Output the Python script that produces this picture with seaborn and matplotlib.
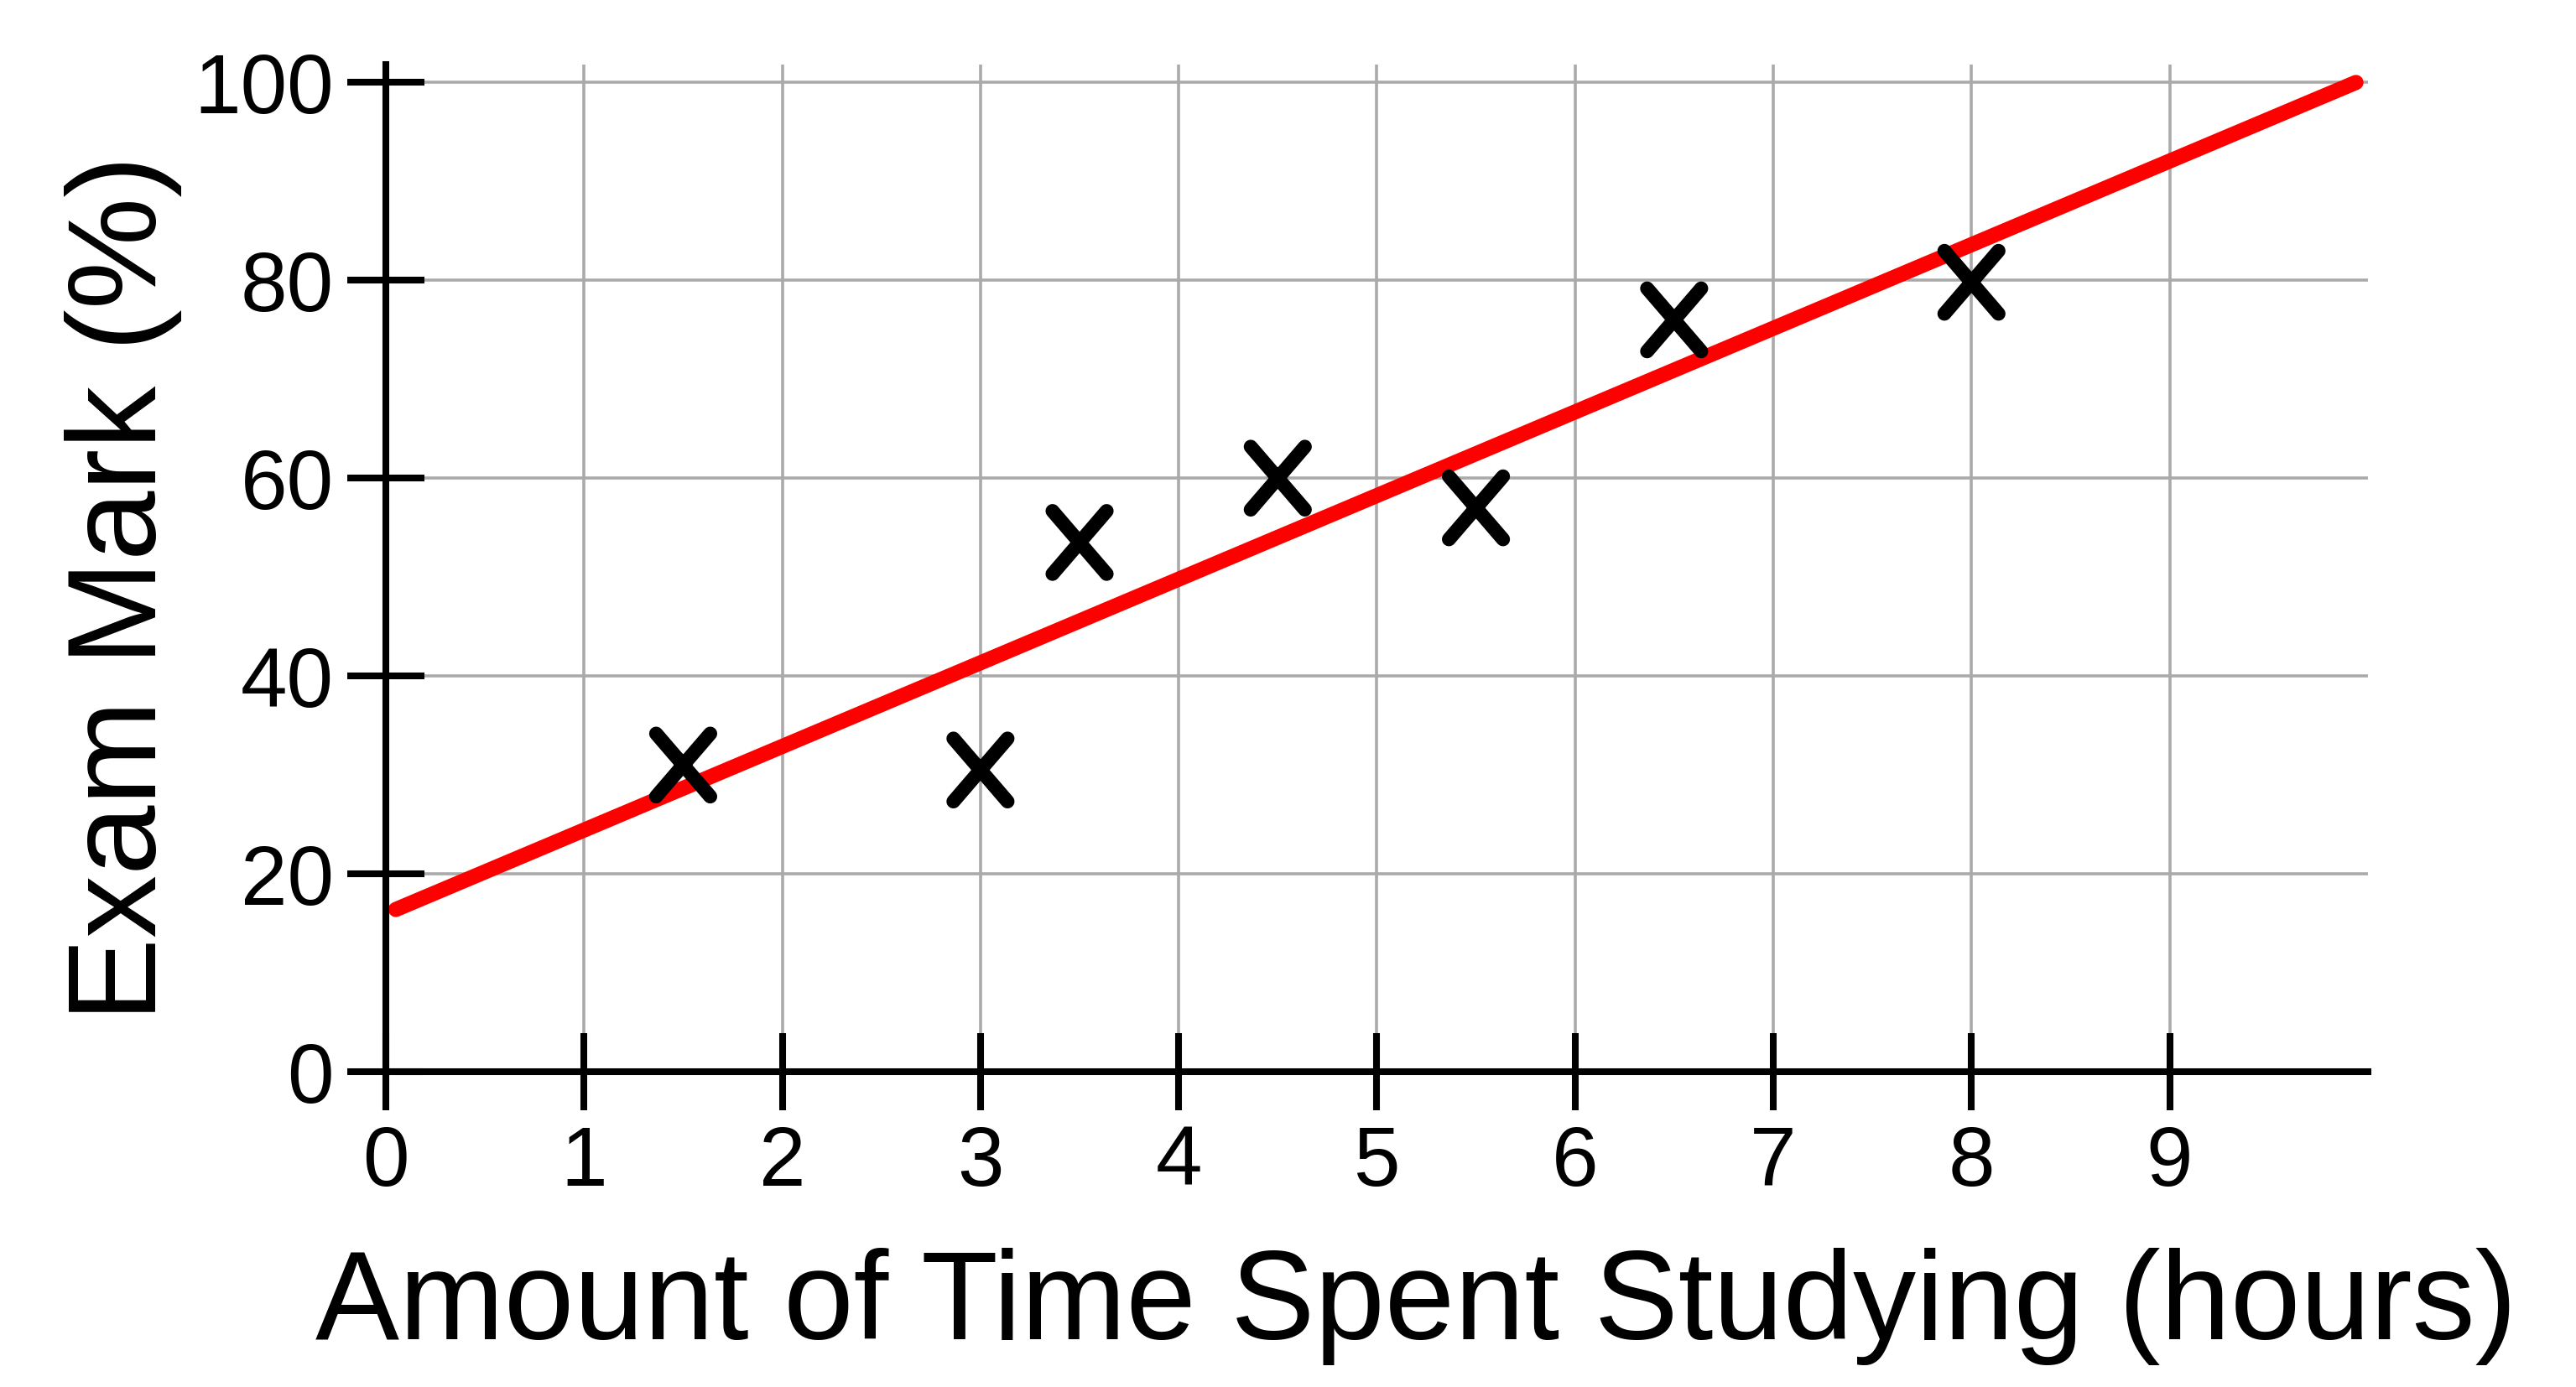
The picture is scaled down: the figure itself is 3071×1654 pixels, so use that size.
import matplotlib
matplotlib.use("Agg")
import matplotlib.pyplot as plt
from matplotlib.markers import MarkerStyle
from matplotlib.path import Path
import seaborn as sns

# data
hours = [1.5, 3.0, 3.5, 4.5, 5.5, 6.5, 8.0]
marks = [31.0, 30.5, 53.5, 60.0, 57.0, 76.0, 79.8]

# best fit line, the two drawn end points
fit_x = [0.05, 9.94]
fit_y = [16.4, 100.0]

x_ticks = [0, 1, 2, 3, 4, 5, 6, 7, 8, 9]
y_ticks = [0, 20, 40, 60, 80, 100]

sns.set_style("whitegrid")
plt.rcParams["font.family"] = ["Liberation Sans", "DejaVu Sans"]

fig = plt.figure(figsize=(15.355, 8.27), dpi=200)
ax = fig.add_axes([0.1498, 0.2273, 0.7694, 0.7261])

# red trend line
sns.lineplot(x=fit_x, y=fit_y, ax=ax, color="red", linewidth=6.5,
             solid_capstyle="round", zorder=3)

# a slightly tall cross, like the reference
cross = Path([(-0.43, -0.5), (0.43, 0.5), (-0.43, 0.5), (0.43, -0.5)],
             [Path.MOVETO, Path.LINETO, Path.MOVETO, Path.LINETO])
marker = MarkerStyle(cross, fillstyle="none")
sns.scatterplot(x=hours, y=marks, ax=ax, marker=marker, color="black",
                s=27 ** 2, capstyle="round", zorder=4)
# seaborn picks its own stroke width, so set it afterwards
ax.collections[-1].set_linewidth(6)

ax.set_xlim(0, 10)
ax.set_ylim(0, 101.8)
ax.set_xticks(x_ticks)
ax.set_yticks(y_ticks)

ax.grid(True, color="#aaaaaa", linewidth=1.3)
for side in ["top", "right"]:
    ax.spines[side].set_visible(False)
for side in ["left", "bottom"]:
    ax.spines[side].set_color("black")
    ax.spines[side].set_linewidth(2.9)
    ax.spines[side].set_zorder(5)

ax.tick_params(direction="inout", length=33, width=2.9, color="black",
               labelsize=36, labelcolor="black", bottom=True, left=True)
ax.tick_params(axis="x", pad=6)
ax.tick_params(axis="y", pad=6)

ax.set_xlabel("Amount of Time Spent Studying (hours)", fontsize=54,
              color="black")
ax.set_ylabel("Exam Mark (%)", fontsize=54, color="black")
ax.xaxis.set_label_coords(0.52, -0.175)
ax.yaxis.set_label_coords(-0.103, 0.48)

fig.savefig("out.png", dpi=200, facecolor="white")
